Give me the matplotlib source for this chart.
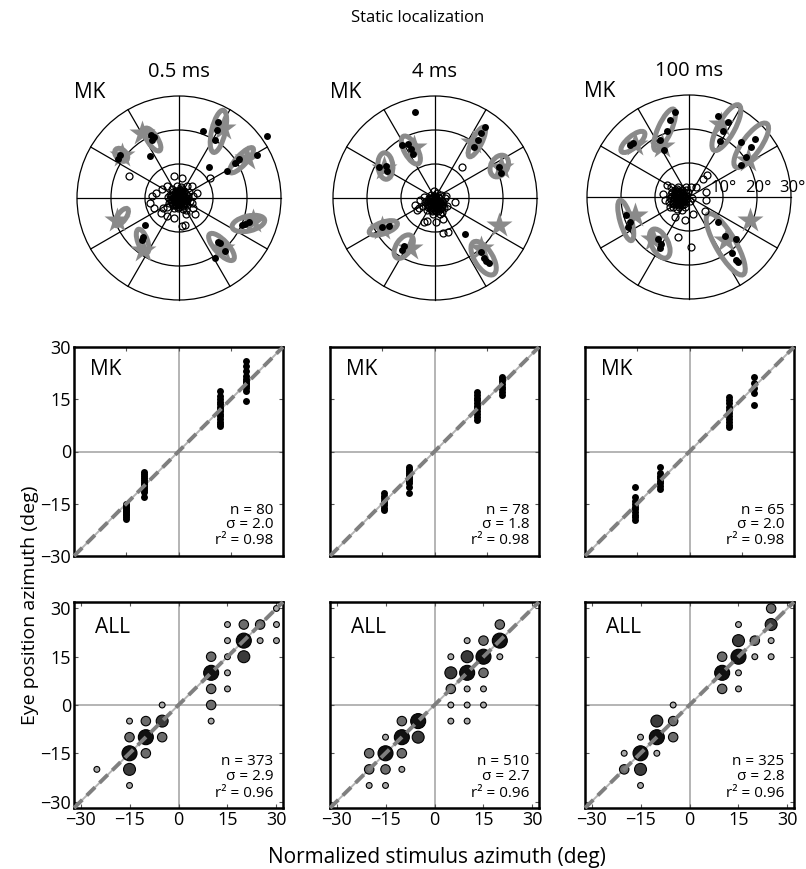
import matplotlib
matplotlib.use("Agg")
import numpy as np
import matplotlib.pyplot as plt
from matplotlib.patches import Ellipse, Circle

plt.rcParams["font.family"] = ["Open Sans", "DejaVu Sans"]

W, H = 806, 869

# ============================================
# DATA - polar (static localization) panels
# ============================================
POLAR_TITLES = ["0.5 ms", "4 ms", "100 ms"]
RING_LABELS = ["10°", "20°", "30°"]
RING_RADII = [10, 20, 30]

STAR_X = [[-11.0, -16.9, 13.0, 19.9, 21.9, 12.5, -18.3, -10.5],
          [-6.3, -15.0, 11.2, 19.4, 18.9, 13.6, -15.5, -7.3],
          [-16.0, -8.0, 9.5, 17.4, 17.8, 11.0, -16.0, -10.6]]
STAR_Y = [[19.1, 12.7, 20.6, 11.8, -6.9, -14.7, -6.4, -15.2],
          [15.0, 8.7, 16.5, 9.2, -7.8, -14.6, -8.7, -14.6],
          [15.7, 15.0, 21.6, 10.8, -6.9, -12.7, -5.4, -12.3]]

# ellipse centre, long axis, short axis, orientation (deg)
ELL_X = [[-7.8, -17.0, 11.6, 18.4, 20.4, 12.5, -16.9, -10.7],
         [-7.1, -14.6, 12.3, 18.9, -15.2, -9.2, 14.3],
         [-16.5, -7.2, 11.0, 18.3, -18.6, -8.6, 10.8]]
ELL_Y = [[17.2, 12.7, 19.6, 11.1, -7.5, -14.4, -5.6, -12.7],
         [14.1, 9.4, 16.5, 9.4, -8.8, -14.3, -17.7],
         [16.2, 19.8, 20.4, 15.2, -6.9, -13.7, -13.9]]
ELL_LEN = [[7.8, 4.5, 12.7, 9.8, 9.8, 10.3, 6.0, 7.4],
           [9.2, 7.8, 9.7, 6.8, 8.7, 7.8, 11.2],
           [8.8, 13.2, 15.2, 15.7, 12.3, 9.3, 20.6]]
ELL_WID = [[3.0, 3.0, 4.0, 3.0, 4.4, 3.9, 2.5, 2.9],
           [3.9, 4.4, 2.9, 4.9, 3.4, 4.4, 5.3],
           [3.4, 3.9, 4.9, 5.4, 3.4, 4.9, 5.9]]
ELL_ANG = [[123, 135, 77, 47, 13, -47, 54, 110],
           [119, 95, 63, 60, 19, 56, -58],
           [40, 66, 61, 54, 106, -63, -60]]

EYE_X = [[7.2, 26.0, 22.8, 8.9, 14.0, -8.5, -17.4, -17.8, -8.0, -7.5, -8.3, 10.6,
          -10.0, -11.0, -10.5, 18.4, 19.5, 20.5, 12.0, 13.5, 11.5, 11.6, 10.6, 11.3,
          17.5, 16.5],
         [-5.8, 14.6, -9.7, 8.7, -16.5, -7.0, -6.5, -7.8, -14.5, -14.2, 12.5, 13.5,
          11.5, 18.8, 19.5, -15.5, -13.5, -9.2, -9.6, 13.5, 14.5, 15.0, 16.0],
         [-4.2, -8.6, -7.3, -6.5, -5.5, -16.5, -17.5, 8.5, 10.0, 9.2, 11.5, 15.2,
          18.1, 16.7, 15.2, 19.5, 8.5, 10.5, 13.9, 13.9, 12.7, 14.5, -18.4, -17.5,
          -18.0, -9.0, -8.1, -8.5]]
EYE_Y = [[19.6, 18.1, 12.7, 9.0, 7.8, 12.3, 12.7, 11.5, 17.2, 17.8, 18.5, -17.6,
          -7.8, -12.3, -11.5, -7.8, -7.6, -7.2, -13.2, -15.7, -12.8, 22.5, 17.2, 20.0,
          11.5, 10.3],
         [25.4, 20.9, 15.5, -10.7, 9.2, 14.5, 12.8, 15.8, 9.5, 8.0, 17.0, 19.0,
          15.0, 9.0, 7.5, -8.6, -8.2, -14.0, -15.2, -16.0, -17.5, -18.6, -19.2],
         [25.0, 16.7, 13.7, 19.5, 22.5, 16.0, 15.3, 23.8, 19.4, 16.5, 22.0, 16.1,
          14.7, 11.8, 9.3, 17.0, -7.3, -11.6, -12.5, -18.4, -16.6, -19.2, -5.4, -7.4,
          -8.8, -12.3, -13.7, -15.0]]

# fixation (open circles): outer scatter followed by the dense core
FIX_X = [[-14.7, -1.5, 1.0, 9.1, 3.7, 5.2, 4.2, 3.7, 4.2, 4.7, 2.1, -1.5, -3.6, -5.4,
          0.8, 1.8, -8.5, -8.0, -6.8, -5.1, -3.6, -7.4, -4.6, 2.3, -0.7,
          0.0, -1.0, 1.0, -2.0, 2.0, 0.5, -0.8, -1.8, 1.5, 0.2, -2.6, 2.7, -2.9, 2.4,
          -0.3, 1.2, -1.6, 3.2, -3.3, 0.8, -0.6, -1.4, 1.7, 3.0, -2.2, 0.6, -3.5, 2.0,
          0.3, -0.4, 0.9, -0.9, 0.1, -0.2, 1.3, -1.2, 0.6, -0.7, 1.9, -1.9, 0.4, -0.5,
          1.4, -1.3, 2.3, -2.4, 0.0, 1.0, -1.1, 2.1, -2.3,
          0.2, -0.6, 1.1, -1.3, 0.5, -0.2, 1.6, -1.6, 0.8, -0.9, 2.0, -2.1, 0.3, -0.4,
          1.3, -1.0, 2.5, -2.6, 0.9, -0.1, 1.8, -1.8, 0.0, 0.6, -0.5],
         [8.0, 5.8, 2.4, 3.9, -2.4, -3.2, -5.3, -4.6, -5.8, 0.3, 2.4, -4.4, 3.2, 3.4,
          -0.5, 0.5, -1.5, 1.2, -2.0, 0.0, -1.0, 0.8, 2.0, -2.8, 1.8, -1.2, 2.6, -2.4,
          0.2, -3.2, 3.0, -0.6, 1.4, -1.8, 0.6, -3.5, 2.2, -0.2,
          0.2, -0.3, 0.7, -0.8, 0.3, -0.2, 1.1, -1.1, 0.9, -0.7, 1.6, -1.6, 0.4, -0.5,
          1.4, -1.4, 2.2, -2.2, 0.0, 1.0, -1.0,
          0.1, -0.5, 1.0, -1.2, 0.6, -0.3, 1.5, -1.7, 0.8, -0.9, 2.0, -2.0, 0.3, -0.2,
          1.2, -1.1, 2.4, -2.5, 0.0, 0.5],
         [4.1, 5.3, 2.2, -6.5, -5.2, -3.2, -0.8, 0.7, 5.1, 5.1, 4.6, 1.2, -1.3, -4.2,
          -3.2, 0.7, -7.6, -7.2,
          -3.2, -2.0, -4.3, -1.5, -4.6, -3.0, -5.5, -0.8, -2.6, -4.0, -1.2, -5.0, 0.2,
          -6.0, -3.6, -2.0, -0.2, -5.6, 0.8, -1.0, -4.8, -2.4,
          -2.8, -3.5, -2.2, -3.8, -2.9, -3.1, -1.7, -4.4, -2.0, -4.0, -2.5, -3.9, -1.1,
          -5.0, -3.3, -1.6, -4.6,
          -3.0, -2.4, -3.6, -1.9, -4.2, -2.7, -3.3, -1.4, -4.8, -2.1, -3.9, -0.9, -5.3,
          -2.9, -3.5, -1.6, -4.5, -2.2, -3.2, -2.6]]
FIX_Y = [[6.4, 6.4, 5.9, 5.9, 3.4, 1.5, 0.5, -1.5, -2.9, -4.6, -4.6, -5.9, -5.2, -4.4,
          -8.1, -7.9, -1.5, 0.5, 1.5, 2.6, 3.4, -2.9, -2.9, 3.4, 3.4,
          0.0, 0.8, 0.6, -0.5, -0.8, -1.6, -1.9, 1.8, 2.0, 2.4, 1.0, 0.7, -1.6, -2.1,
          -2.9, -3.1, -3.0, -0.9, 0.2, 1.2, 1.5, -1.0, -1.1, 1.9, 2.7, 3.3, -2.5, -3.5,
          0.4, -0.3, -0.4, 0.3, -0.9, 1.0, 0.9, -0.6, -1.2, -1.3, 0.2, -0.1, 1.8, 2.0,
          -1.7, 1.4, -0.5, 0.5, -2.2, 2.1, -2.2, 1.3, -1.2,
          0.2, 0.6, -0.3, 0.1, -0.6, -1.1, 0.4, -0.8, 1.4, 1.2, -1.4, 0.9, 1.7, -1.7,
          -2.3, 2.2, 0.1, -0.3, 2.6, -2.6, -0.5, -2.0, 1.1, 0.0, -0.1],
         [9.2, -1.3, -10.2, -10.0, -6.8, -7.1, -3.4, -2.9, -2.2, -7.1, -6.3, -0.5, 0.5,
          -2.4, -1.5, -0.5, -0.3, -2.2, -2.5, 0.6, -3.5, -3.8, -1.0, -1.2, 0.8, 1.0,
          -2.8, -3.6, -2.6, 0.2, 0.0, -4.6, -4.8, 0.0, 1.6, -2.4, -4.0, 2.2,
          -1.2, -1.8, -1.6, -1.0, -2.4, -0.6, -0.9, -2.0, -2.8, -3.0, -1.6, -1.3, -0.1,
          0.2, -3.3, -0.2, -2.0, -2.0, -3.4, 0.3, -3.8,
          -1.0, -1.3, -2.0, -1.7, -0.5, -2.6, -1.2, -2.3, -3.2, -0.4, -2.6, -0.9, -3.9,
          0.4, 0.0, -3.3, -1.5, -1.8, -1.6, -2.2],
         [5.4, 6.4, 2.9, 3.4, 2.9, 2.9, 2.9, 2.9, 1.5, -1.0, -4.1, -4.9, -6.9, -5.9,
          -11.8, -14.7, 1.0, -1.0,
          -0.5, 0.4, 0.6, -1.5, -1.8, -2.4, -0.4, 0.2, 1.6, 2.0, -2.9, 1.4, -1.2,
          -1.6, -3.5, -3.8, 1.4, -2.8, -0.2, 2.2, -3.0, -1.0,
          -0.2, -0.9, -0.8, 0.1, 0.9, -1.6, -0.1, -0.8, 1.0, 1.1, -1.9, -2.1, -0.8,
          0.3, 1.9, 1.5, -2.2,
          -0.3, 0.3, -0.6, -1.2, 0.2, 1.2, -1.8, 0.6, -1.2, -2.4, 1.5, -0.4, 0.8,
          -3.0, 2.4, -2.0, -0.2, 2.0, 0.9, -0.9]]

# ============================================
# DATA - MK scatter (middle row)
# ============================================
MK_COL_X = [[-15.0, -10.0, 12.0, 19.5],
            [-14.6, -7.4, 12.3, 19.5],
            [-15.6, -8.6, 11.3, 18.4]]
MK_COL_Y = [[[-15.0, -15.4, -15.9, -16.3, -16.8, -17.1, -17.5, -17.9, -18.3, -18.8, -19.4],
             [-5.9, -6.5, -7.0, -7.6, -8.1, -8.7, -9.3, -9.8, -10.4, -11.0, -11.5, -13.1],
             [17.5, 15.9, 15.1, 14.3, 13.6, 12.9, 12.2, 11.5, 10.8, 10.1, 9.4, 8.6, 7.9, 7.2],
             [26.0, 24.6, 23.0, 21.7, 20.8, 20.2, 19.6, 19.3, 18.8, 18.3, 17.3, 14.4]],
            [[-12.0, -12.7, -13.4, -14.1, -14.8, -15.5, -16.2, -16.8],
             [-4.4, -5.0, -5.6, -6.2, -6.8, -7.4, -8.0, -8.6, -9.1, -10.2, -12.0],
             [17.2, 16.3, 15.5, 14.7, 13.9, 13.1, 12.4, 11.6, 10.8, 10.0, 9.0],
             [21.5, 20.8, 20.1, 19.4, 18.6, 17.8, 17.0, 16.2]],
            [[-10.1, -13.2, -14.1, -15.0, -15.8, -16.6, -17.4, -18.1, -18.9, -19.6],
             [-4.4, -6.3, -7.0, -7.7, -8.4, -9.1, -9.8, -10.8],
             [15.7, 14.7, 13.8, 12.9, 12.0, 11.1, 10.2, 9.3, 8.4, 7.6, 6.9],
             [21.5, 19.6, 18.1, 16.7, 13.4]]]
MK_N = [80, 78, 65]
MK_SIGMA = [2.0, 1.8, 2.0]
MK_R2 = [0.98, 0.98, 0.98]

# ============================================
# DATA - ALL monkeys, binned counts (bottom row)
# count class 1 (few) .. 4 (many)
# ============================================
ALL_X = [[30, 15, 20, 25, 30, 15, 20, 25, 30, 10, 15, 20, 10, 15, 10, 15, 10, 10,
          -5, -5, -10, -15, -15, -10, -5, -15, -10, -15, -25, -15],
         [20, 10, 15, 20, 5, 10, 15, 20, 5, 10, 15, 5, 10, 15, 5, 10, 15, 5, 10,
          -10, -5, -15, -10, -5, -20, -15, -10, -20, -15, -10, -20, -15],
         [25, 15, 25, 15, 20, 25, 10, 15, 20, 25, 10, 15, 10, 15, -5, -10, -5,
          -15, -10, -5, -20, -15, -10, -20, -15, -15]]
ALL_Y = [[30, 25, 25, 25, 25, 20, 20, 20, 20, 15, 15, 15, 10, 10, 5, 5, 0, -5,
          0, -5, -5, -5, -10, -10, -10, -15, -15, -20, -20, -25],
         [25, 20, 20, 20, 15, 15, 15, 15, 10, 10, 10, 5, 5, 5, 0, 0, 0, -5, -5,
          -5, -5, -10, -10, -10, -15, -15, -15, -20, -20, -20, -25, -25],
         [30, 25, 25, 20, 20, 20, 15, 15, 15, 15, 10, 10, 5, 5, 0, -5, -5,
          -10, -10, -10, -15, -15, -15, -20, -20, -25]]
ALL_C = [[1, 1, 2, 2, 1, 1, 4, 1, 1, 2, 1, 3, 4, 1, 2, 1, 2, 1,
          1, 3, 2, 1, 2, 4, 2, 4, 2, 3, 1, 1],
         [2, 1, 2, 4, 1, 3, 4, 1, 3, 4, 2, 2, 1, 1, 1, 1, 1, 1, 1,
          2, 4, 1, 4, 3, 2, 4, 2, 2, 2, 1, 1, 1],
         [2, 1, 3, 3, 2, 1, 2, 4, 1, 1, 4, 1, 2, 1, 1, 3, 2,
          1, 4, 2, 1, 4, 1, 2, 3, 1]]
ALL_N = [373, 510, 325]
ALL_SIGMA = [2.9, 2.7, 2.8]
ALL_R2 = [0.96, 0.96, 0.96]

TICKS = [-30, -15, 0, 15, 30]
BUBBLE_SIZE = {1: 4.2, 2: 6.8, 3: 8.6, 4: 10.8}
BUBBLE_FACE = {1: "#a8a8a8", 2: "#6c6c6c", 3: "#3a3a3a", 4: "#111111"}

GRAY = "#8a8a8a"
LIGHT = "#b4b4b4"


def px_axes(fig, left, top, w, h):
    return fig.add_axes([left / W, 1 - (top + h) / H, w / W, h / H])


fig = plt.figure(figsize=(W / 100, H / 100), dpi=100)
fig.text(418 / W, 1 - 18 / H, "Static localization", ha="center", va="center", fontsize=12)

# ============================================
# POLAR PANELS
# ============================================
SCALE = 3.4  # px per degree
centers = [(179, 198), (435, 198), (689, 197)]
for i, (cx, cy) in enumerate(centers):
    ax = px_axes(fig, cx - 36 * SCALE, cy - 40 * SCALE, 72 * SCALE, 72 * SCALE)
    ax.set_xlim(-36, 36)
    ax.set_ylim(-32, 40)
    ax.axis("off")
    for r in RING_RADII:
        ax.add_patch(Circle((0, 0), r, fill=False, ec="black", lw=0.9, zorder=1))
    for a in np.deg2rad(np.arange(0, 360, 30)):
        ax.plot([0, 30 * np.cos(a)], [0, 30 * np.sin(a)], color="black", lw=0.9, zorder=1)

    ax.plot(STAR_X[i], STAR_Y[i], "*", ms=19, color=GRAY, mec="none", zorder=2)
    for ex, ey, el, ew, ea in zip(ELL_X[i], ELL_Y[i], ELL_LEN[i], ELL_WID[i], ELL_ANG[i]):
        ax.add_patch(Ellipse((ex, ey), el, ew, angle=ea, fill=False, ec=GRAY, lw=3.6, zorder=3))
    ax.plot(EYE_X[i], EYE_Y[i], "o", ms=5, color="black", mec="none", zorder=4)
    # open circles without fill so the dense core builds up to black
    ax.plot(FIX_X[i], FIX_Y[i], "o", ms=5.0, mfc="none", mec="black", mew=0.9, zorder=5)

    ax.text(0, 37, POLAR_TITLES[i], ha="center", va="center", fontsize=14.5)
    ax.text(-30.8, 31, "MK", ha="left", va="center", fontsize=15)
    if i == 2:
        for r, lab in zip(RING_RADII, RING_LABELS):
            ax.text(r + 0.3, 0.2, lab, ha="center", va="bottom", fontsize=12, zorder=6)


# ============================================
# SCATTER PANELS
# ============================================
def style_box(ax, lim, show_x, show_y):
    ax.set_xlim(-lim, lim)
    ax.set_ylim(-lim, lim)
    ax.axhline(0, color=LIGHT, lw=1.4, zorder=1)
    ax.axvline(0, color=LIGHT, lw=1.4, zorder=1)
    ax.plot([-lim, lim], [-lim, lim], color=LIGHT, lw=1.4, solid_capstyle="round",
            zorder=2, clip_on=False)
    ax.plot([-lim, lim], [-lim, lim], color="#7f7f7f", lw=2.8, dashes=(3.0, 1.6),
            zorder=6, clip_on=False)
    ax.set_xticks(TICKS)
    ax.set_yticks(TICKS)
    ax.tick_params(direction="in", length=3, width=0.8, top=True, right=True,
                   labelsize=13, pad=2, color="#555555")
    if not show_x:
        ax.set_xticklabels([])
    if not show_y:
        ax.set_yticklabels([])
    for s in ax.spines.values():
        s.set_linewidth(1.8)


def stats(ax, n, sig, r2, ys):
    ax.text(0.955, ys[0], f"n = {n}", transform=ax.transAxes, ha="right", va="center", fontsize=11)
    ax.text(0.955, ys[1], f"σ = {sig:.1f}", transform=ax.transAxes, ha="right", va="center", fontsize=11)
    ax.text(0.955, ys[2], f"r² = {r2:.2f}", transform=ax.transAxes, ha="right", va="center", fontsize=11)


lefts = [74, 330, 585]
for i, left in enumerate(lefts):
    # middle row: MK
    ax = px_axes(fig, left, 347, 209, 209)
    style_box(ax, 30, False, i == 0)
    for x, ys in zip(MK_COL_X[i], MK_COL_Y[i]):
        ax.plot([x] * len(ys), ys, "o", ms=5, color="black", mec="none", zorder=4)
    ax.text(0.075, 0.89, "MK", transform=ax.transAxes, ha="left", va="center", fontsize=15)
    stats(ax, MK_N[i], MK_SIGMA[i], MK_R2[i], [0.22, 0.15, 0.075])

    # bottom row: ALL
    ax = px_axes(fig, left, 602, 209, 206)
    style_box(ax, 32, True, i == 0)
    sizes = [BUBBLE_SIZE[c] ** 2 for c in ALL_C[i]]
    faces = [BUBBLE_FACE[c] for c in ALL_C[i]]
    ax.scatter(ALL_X[i], ALL_Y[i], s=sizes, c=faces, edgecolors="black", linewidths=0.8,
               zorder=4, clip_on=False)
    ax.text(0.1, 0.875, "ALL", transform=ax.transAxes, ha="left", va="center", fontsize=15)
    stats(ax, ALL_N[i], ALL_SIGMA[i], ALL_R2[i], [0.225, 0.152, 0.07])

fig.text(30 / W, 1 - 605 / H, "Eye position azimuth (deg)", rotation=90,
         ha="center", va="center", fontsize=14)
fig.text(437 / W, 1 - 857 / H, "Normalized stimulus azimuth (deg)",
         ha="center", va="center", fontsize=15)

fig.savefig("out.png", dpi=100)
